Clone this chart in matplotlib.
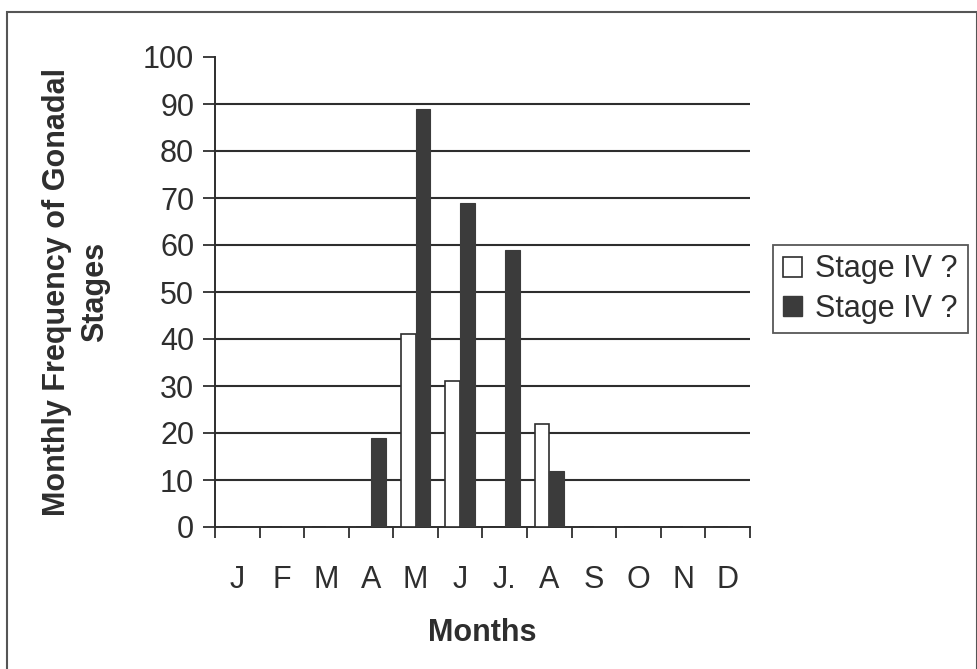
import matplotlib
matplotlib.use("Agg")
import matplotlib.pyplot as plt
from matplotlib.patches import Patch, Rectangle
import numpy as np

plt.rcParams['font.family'] = ['Liberation Sans', 'DejaVu Sans']

months = ["J", "F", "M", "A", "M", "J", "J.", "A", "S", "O", "N", "D"]
stage_a = [0, 0, 0, 0, 41, 31, 0, 22, 0, 0, 0, 0]   # open bars
stage_b = [0, 0, 0, 19, 89, 69, 59, 12, 0, 0, 0, 0]  # dark bars
legend_labels = ["Stage IV ?", "Stage IV ?"]
yticks = list(range(0, 101, 10))

ink = "#2e2e2e"
dark = "#3b3b3b"

W, H = 978, 669
fig = plt.figure(figsize=(W / 100, H / 100), dpi=100)
ax = fig.add_axes([215 / W, 1 - 527 / H, (750 - 215) / W, (527 - 57) / H])

x = np.arange(len(months)) + 0.5
w = 0.33
ax.bar(x - w / 2, stage_a, width=w, color="white", edgecolor=ink, linewidth=1.2, zorder=3)
ax.bar(x + w / 2, stage_b, width=w, color=dark, edgecolor=dark, linewidth=0.8, zorder=3)

ax.set_xlim(0, len(months))
ax.set_ylim(0, 100)

for v in yticks[1:-1]:
    ax.axhline(v, color=ink, linewidth=1.5, zorder=1)

ax.set_yticks(yticks)
ax.set_yticklabels([str(v) for v in yticks], fontsize=22, color=ink)
ax.tick_params(axis="y", direction="out", length=9, width=1.3, color=ink, pad=6)

ax.set_xticks(np.arange(len(months) + 1), minor=True)
ax.set_xticks(x)
ax.set_xticklabels(months, fontsize=22, color=ink)
ax.tick_params(axis="x", which="major", length=0, pad=27)
ax.tick_params(axis="x", which="minor", direction="out", length=8, width=1.3, color=ink)

for s in ["top", "right"]:
    ax.spines[s].set_visible(False)
for s in ["left", "bottom"]:
    ax.spines[s].set_color(ink)
    ax.spines[s].set_linewidth(1.4)

ax.set_xlabel("Months", fontsize=22, fontweight="bold", color=ink, labelpad=17)
ax.set_ylabel("Monthly Frequency of Gonadal\nStages", fontsize=22, fontweight="bold",
              color=ink, linespacing=1.35)
ax.yaxis.set_label_coords(-(215 - 110) / (750 - 215), 0.5)

handles = [Patch(facecolor="white", edgecolor=ink, linewidth=1.2),
           Patch(facecolor=dark, edgecolor=dark)]
leg = fig.legend(handles, legend_labels, loc="center left",
                 bbox_to_anchor=(773 / W, 1 - 289 / H), fontsize=22,
                 frameon=True, fancybox=False, handlelength=0.62, handleheight=0.62,
                 handletextpad=0.45, borderpad=0.32, labelspacing=0.3,
                 borderaxespad=0)
leg.get_frame().set_edgecolor(ink)
leg.get_frame().set_linewidth(1.3)
for t in leg.get_texts():
    t.set_color(ink)

fig.patches.append(Rectangle((7 / W, -0.05), (977 - 7) / W, 1.05 - 12 / H,
                             transform=fig.transFigure, fill=False,
                             edgecolor="#555555", linewidth=1.5))

fig.savefig("out.png", dpi=100)
